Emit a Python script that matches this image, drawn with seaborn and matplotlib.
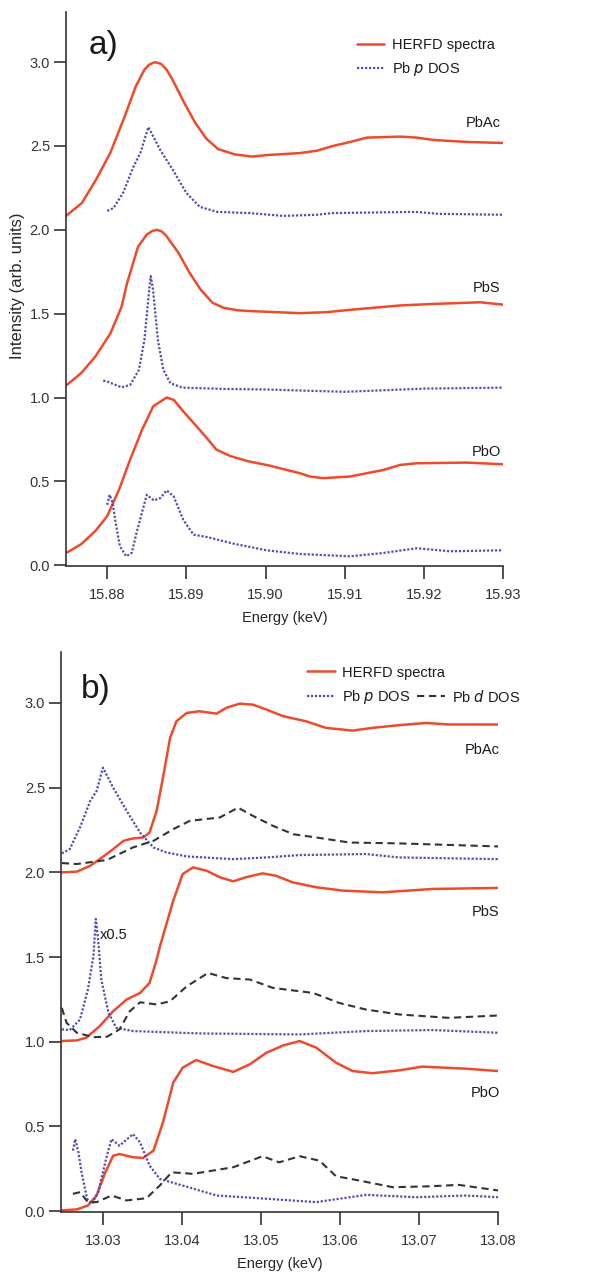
import numpy as np
import matplotlib
matplotlib.use("Agg")
import matplotlib.pyplot as plt
import seaborn as sns
from matplotlib.lines import Line2D

# ---- panel a) Pb L1 edge, energies in keV ----
a_pbac_herfd_e = [15.8748, 15.8768, 15.8786, 15.8804, 15.8822, 15.8836, 15.8847, 15.8853, 15.886, 15.8868,
                  15.8875, 15.8882, 15.8897, 15.8911, 15.8925, 15.894, 15.8961, 15.8983, 15.9002, 15.9044,
                  15.9065, 15.9085, 15.9107, 15.9128, 15.917, 15.9191, 15.9212, 15.9255, 15.93]
a_pbac_herfd_i = [2.083, 2.16, 2.30, 2.46, 2.675, 2.855, 2.955, 2.985, 3.0, 2.99,
                  2.955, 2.90, 2.76, 2.64, 2.545, 2.482, 2.45, 2.437, 2.446, 2.458,
                  2.472, 2.50, 2.524, 2.55, 2.556, 2.55, 2.536, 2.524, 2.518]
a_pbac_pdos_e = [15.88, 15.8808, 15.882, 15.8833, 15.8842, 15.8852, 15.8867, 15.8883, 15.89, 15.8917,
                 15.8939, 15.898, 15.9022, 15.9065, 15.9085, 15.919, 15.922, 15.93]
a_pbac_pdos_i = [2.113, 2.13, 2.22, 2.375, 2.46, 2.613, 2.476, 2.357, 2.22, 2.137,
                 2.107, 2.10, 2.083, 2.09, 2.10, 2.107, 2.095, 2.09]

a_pbs_herfd_e = [15.8749, 15.8767, 15.8785, 15.8804, 15.8818, 15.8825, 15.8839, 15.885, 15.8857, 15.8863,
                 15.8869, 15.8875, 15.889, 15.8904, 15.8918, 15.8933, 15.8947, 15.8965, 15.8983, 15.9004,
                 15.9043, 15.9077, 15.9107, 15.917, 15.9212, 15.9271, 15.93]
a_pbs_herfd_i = [1.075, 1.145, 1.244, 1.382, 1.54, 1.68, 1.90, 1.972, 1.993, 2.0,
                 1.99, 1.962, 1.863, 1.744, 1.644, 1.565, 1.535, 1.52, 1.515, 1.511,
                 1.503, 1.509, 1.523, 1.549, 1.558, 1.568, 1.554]
a_pbs_pdos_e = [15.8795, 15.88, 15.8818, 15.8829, 15.884, 15.8847, 15.8853, 15.8855, 15.8858, 15.8864,
                15.8871, 15.888, 15.8895, 15.8949, 15.90, 15.91, 15.92, 15.93]
a_pbs_pdos_i = [1.101, 1.095, 1.061, 1.075, 1.164, 1.343, 1.64, 1.724, 1.64, 1.343,
                1.164, 1.085, 1.059, 1.051, 1.048, 1.034, 1.053, 1.059]

a_pbo_herfd_e = [15.8749, 15.8767, 15.8785, 15.88, 15.8815, 15.8829, 15.8844, 15.8858, 15.8875, 15.8884,
                 15.8898, 15.8913, 15.8924, 15.8938, 15.8956, 15.8978, 15.9004, 15.9043, 15.9056, 15.9073,
                 15.9107, 15.9149, 15.917, 15.9191, 15.9254, 15.93]
a_pbo_herfd_i = [0.075, 0.125, 0.204, 0.293, 0.451, 0.63, 0.808, 0.947, 1.0, 0.986,
                 0.907, 0.828, 0.768, 0.689, 0.65, 0.62, 0.595, 0.549, 0.529, 0.519,
                 0.529, 0.568, 0.598, 0.608, 0.612, 0.602]
a_pbo_pdos_e = [15.88, 15.8803, 15.8807, 15.881, 15.8816, 15.8824, 15.8831, 15.8837, 15.8846, 15.885,
                15.8859, 15.8867, 15.8875, 15.8884, 15.8896, 15.8909, 15.8926, 15.8959, 15.9001, 15.9043,
                15.9107, 15.9149, 15.9191, 15.9233, 15.93]
a_pbo_pdos_i = [0.36, 0.42, 0.37, 0.271, 0.113, 0.053, 0.073, 0.192, 0.35, 0.42,
                0.386, 0.40, 0.446, 0.41, 0.271, 0.182, 0.168, 0.129, 0.089, 0.067,
                0.053, 0.073, 0.101, 0.083, 0.089]

# ---- panel b) Pb L3 edge ----
b_pbac_herfd_e = [13.0248, 13.0267, 13.0284, 13.0296, 13.0313, 13.0326, 13.0338, 13.0351, 13.0359, 13.0368,
                  13.0376, 13.0385, 13.0393, 13.0406, 13.0422, 13.0444, 13.0456, 13.0473, 13.049, 13.0507,
                  13.0528, 13.0557, 13.0582, 13.0616, 13.0641, 13.0675, 13.0709, 13.0738, 13.08]
b_pbac_herfd_i = [2.0, 2.004, 2.039, 2.078, 2.137, 2.186, 2.2, 2.206, 2.235, 2.363,
                  2.559, 2.794, 2.892, 2.941, 2.951, 2.937, 2.971, 2.996, 2.99, 2.961,
                  2.922, 2.892, 2.853, 2.837, 2.853, 2.869, 2.882, 2.873, 2.873]
b_pbac_pdos_e = [13.0248, 13.0258, 13.0271, 13.0284, 13.0292, 13.03, 13.0313, 13.033, 13.0347, 13.0364,
                 13.038, 13.0406, 13.0465, 13.0507, 13.0549, 13.0633, 13.0675, 13.08]
b_pbac_pdos_i = [2.112, 2.137, 2.265, 2.422, 2.48, 2.618, 2.5, 2.363, 2.235, 2.147,
                 2.118, 2.094, 2.078, 2.088, 2.102, 2.108, 2.088, 2.078]
b_pbac_ddos_e = [13.0248, 13.0267, 13.0305, 13.0338, 13.0364, 13.0389, 13.041, 13.0448, 13.0471, 13.049,
                 13.0515, 13.0541, 13.057, 13.0612, 13.0675, 13.08]
b_pbac_ddos_i = [2.055, 2.049, 2.073, 2.147, 2.186, 2.255, 2.304, 2.324, 2.382, 2.333,
                 2.275, 2.225, 2.206, 2.176, 2.171, 2.153]

b_pbs_herfd_e = [13.0247, 13.0267, 13.0279, 13.0296, 13.0313, 13.033, 13.0347, 13.0359, 13.0368, 13.0372,
                 13.0389, 13.0401, 13.0414, 13.0431, 13.0448, 13.0465, 13.0481, 13.0502, 13.0519, 13.054,
                 13.057, 13.0604, 13.0654, 13.0717, 13.08]
b_pbs_herfd_i = [1.004, 1.008, 1.024, 1.092, 1.18, 1.249, 1.288, 1.347, 1.484, 1.56,
                 1.833, 1.99, 2.029, 2.01, 1.971, 1.947, 1.971, 1.994, 1.98, 1.941,
                 1.912, 1.892, 1.882, 1.902, 1.908]
b_pbs_pdos_e = [13.0248, 13.0258, 13.0271, 13.0281, 13.0288, 13.0291, 13.0294, 13.0298, 13.0307, 13.0317,
                13.0338, 13.0422, 13.0549, 13.0633, 13.0717, 13.08]
b_pbs_pdos_i = [1.073, 1.069, 1.131, 1.308, 1.504, 1.725, 1.6, 1.367, 1.171, 1.082,
                1.063, 1.049, 1.043, 1.063, 1.069, 1.053]
b_pbs_ddos_e = [13.0248, 13.0254, 13.0267, 13.0288, 13.0305, 13.0321, 13.0334, 13.0347, 13.0368, 13.0385,
                13.0406, 13.0433, 13.0456, 13.0486, 13.0515, 13.0566, 13.0599, 13.0633, 13.0675, 13.0738,
                13.08]
b_pbs_ddos_i = [1.2, 1.112, 1.053, 1.027, 1.029, 1.073, 1.18, 1.233, 1.22, 1.239,
                1.327, 1.406, 1.376, 1.367, 1.318, 1.288, 1.229, 1.19, 1.161, 1.141,
                1.155]

b_pbo_herfd_e = [13.0247, 13.0267, 13.0281, 13.0292, 13.0303, 13.0313, 13.0321, 13.0338, 13.0351, 13.0364,
                 13.0376, 13.0389, 13.0401, 13.0418, 13.0439, 13.0465, 13.0486, 13.0507, 13.0528, 13.0549,
                 13.057, 13.0595, 13.0616, 13.0641, 13.0675, 13.0704, 13.0759, 13.08]
b_pbo_herfd_i = [0.004, 0.01, 0.033, 0.092, 0.229, 0.327, 0.337, 0.318, 0.314, 0.357,
                 0.524, 0.759, 0.847, 0.892, 0.857, 0.822, 0.867, 0.935, 0.978, 1.004,
                 0.965, 0.876, 0.827, 0.814, 0.831, 0.853, 0.841, 0.827]
b_pbo_pdos_e = [13.0262, 13.0265, 13.0269, 13.0273, 13.028, 13.0286, 13.0294, 13.0305, 13.0311, 13.0321,
                13.0338, 13.0347, 13.0359, 13.0372, 13.0401, 13.0444, 13.0507, 13.057, 13.0633, 13.0696,
                13.0759, 13.08]
b_pbo_pdos_i = [0.357, 0.425, 0.347, 0.229, 0.073, 0.043, 0.112, 0.327, 0.425, 0.386,
                0.455, 0.406, 0.269, 0.19, 0.151, 0.092, 0.073, 0.053, 0.096, 0.082,
                0.092, 0.082]
b_pbo_ddos_e = [13.0262, 13.0271, 13.0281, 13.0292, 13.0311, 13.033, 13.0355, 13.0372, 13.0387, 13.0414,
                13.0465, 13.0502, 13.0523, 13.0549, 13.0574, 13.0595, 13.0625, 13.0667, 13.0717, 13.075,
                13.08]
b_pbo_ddos_i = [0.102, 0.112, 0.053, 0.053, 0.092, 0.063, 0.076, 0.151, 0.229, 0.22,
                0.259, 0.324, 0.288, 0.324, 0.298, 0.206, 0.18, 0.141, 0.147, 0.155,
                0.122]

sample_names = ["PbAc", "PbS", "PbO"]
a_label_y = [2.64, 1.655, 0.673]
b_label_y = [2.72, 1.765, 0.70]
a_ticks = [15.88, 15.89, 15.90, 15.91, 15.92, 15.93]
b_ticks = [13.03, 13.04, 13.05, 13.06, 13.07, 13.08]
y_ticks = [0.0, 0.5, 1.0, 1.5, 2.0, 2.5, 3.0]

sns.set_style("ticks")
plt.rcParams['font.family'] = ['Liberation Sans', 'DejaVu Sans']
plt.rcParams['axes.edgecolor'] = '#333333'
plt.rcParams['xtick.color'] = '#333333'
plt.rcParams['ytick.color'] = '#333333'
plt.rcParams['text.color'] = '#1a1a1a'

RED = '#ee4a2c'
BLUE = '#5050ae'
BLACK = '#333333'
FS = 10.5

fig = plt.figure(figsize=(6.06, 12.74), dpi=100)
ax1 = fig.add_axes([0.109, 0.5557, 0.721, 0.435])
ax2 = fig.add_axes([0.1007, 0.0487, 0.7211, 0.4394])


def herfd(ax, e, i):
    sns.lineplot(x=e, y=i, ax=ax, color=RED, linewidth=1.8, estimator=None)


def pdos(ax, e, i):
    sns.lineplot(x=e, y=i, ax=ax, color=BLUE, linewidth=1.6, linestyle=(0, (1, 0.8)), estimator=None)


def ddos(ax, e, i):
    sns.lineplot(x=e, y=i, ax=ax, color=BLACK, linewidth=1.5, linestyle=(0, (3.5, 2.2)), estimator=None)


herfd(ax1, a_pbac_herfd_e, a_pbac_herfd_i)
pdos(ax1, a_pbac_pdos_e, a_pbac_pdos_i)
herfd(ax1, a_pbs_herfd_e, a_pbs_herfd_i)
pdos(ax1, a_pbs_pdos_e, a_pbs_pdos_i)
herfd(ax1, a_pbo_herfd_e, a_pbo_herfd_i)
pdos(ax1, a_pbo_pdos_e, a_pbo_pdos_i)

herfd(ax2, b_pbac_herfd_e, b_pbac_herfd_i)
pdos(ax2, b_pbac_pdos_e, b_pbac_pdos_i)
ddos(ax2, b_pbac_ddos_e, b_pbac_ddos_i)
herfd(ax2, b_pbs_herfd_e, b_pbs_herfd_i)
pdos(ax2, b_pbs_pdos_e, b_pbs_pdos_i)
ddos(ax2, b_pbs_ddos_e, b_pbs_ddos_i)
herfd(ax2, b_pbo_herfd_e, b_pbo_herfd_i)
pdos(ax2, b_pbo_pdos_e, b_pbo_pdos_i)
ddos(ax2, b_pbo_ddos_e, b_pbo_ddos_i)

for ax, xlim, ticks in [(ax1, (15.8748, 15.93), a_ticks), (ax2, (13.0247, 13.08), b_ticks)]:
    ax.set_xlim(*xlim)
    ax.set_ylim(-0.005, 3.3)
    ax.set_xticks(ticks)
    ax.set_xticklabels([f"{t:.2f}" for t in ticks])
    ax.set_yticks(y_ticks)
    ax.set_yticklabels([f"{t:.1f}" for t in y_ticks])
    sns.despine(ax=ax)
    ax.spines['left'].set_linewidth(1.2)
    ax.spines['bottom'].set_linewidth(1.2)
    ax.tick_params(direction='out', length=9, width=1.2, labelsize=FS)
    ax.tick_params(axis='x', pad=7)
    ax.tick_params(axis='y', pad=2.5)
    ax.set_xlabel("Energy (keV)", fontsize=FS, labelpad=6)
    ax.set_ylabel("")

ax1.set_ylabel("Intensity (arb. units)", fontsize=12)
ax1.yaxis.set_label_coords(-0.094, 0.505)

for name, y in zip(sample_names, a_label_y):
    ax1.text(15.9297, y, name, ha='right', va='center', fontsize=FS)
for name, y in zip(sample_names, b_label_y):
    ax2.text(13.0802, y, name, ha='right', va='center', fontsize=FS)

ax1.text(15.8777, 3.10, "a)", fontsize=24, ha='left', va='center')
ax2.text(13.0272, 3.08, "b)", fontsize=24, ha='left', va='center')
ax2.text(13.0296, 1.63, "x0.5", fontsize=FS, ha='left', va='center')

h_herfd = Line2D([], [], color=RED, linewidth=1.8)
h_pdos = Line2D([], [], color=BLUE, linewidth=1.6, linestyle=(0, (1, 0.8)))
h_ddos = Line2D([], [], color=BLACK, linewidth=1.5, linestyle=(0, (3.5, 2.2)))

leg_kw = dict(frameon=False, fontsize=FS, handlelength=1.9, handletextpad=0.5,
              labelspacing=0.55, borderaxespad=0, borderpad=0)
ax1.legend([h_herfd, h_pdos], ["HERFD spectra", r"Pb $\it{p}$ DOS"],
           loc='upper left', bbox_to_anchor=(0.665, 0.952), **leg_kw)

leg_b = ax2.legend([h_herfd, h_pdos], ["HERFD spectra", r"Pb $\it{p}$ DOS"],
                   loc='upper left', bbox_to_anchor=(0.563, 0.976), **leg_kw)
ax2.add_artist(leg_b)
ax2.legend([h_ddos], [r"Pb $\it{d}$ DOS"], loc='upper left',
           bbox_to_anchor=(0.815, 0.935), **leg_kw)

fig.savefig("out.png", dpi=100)
